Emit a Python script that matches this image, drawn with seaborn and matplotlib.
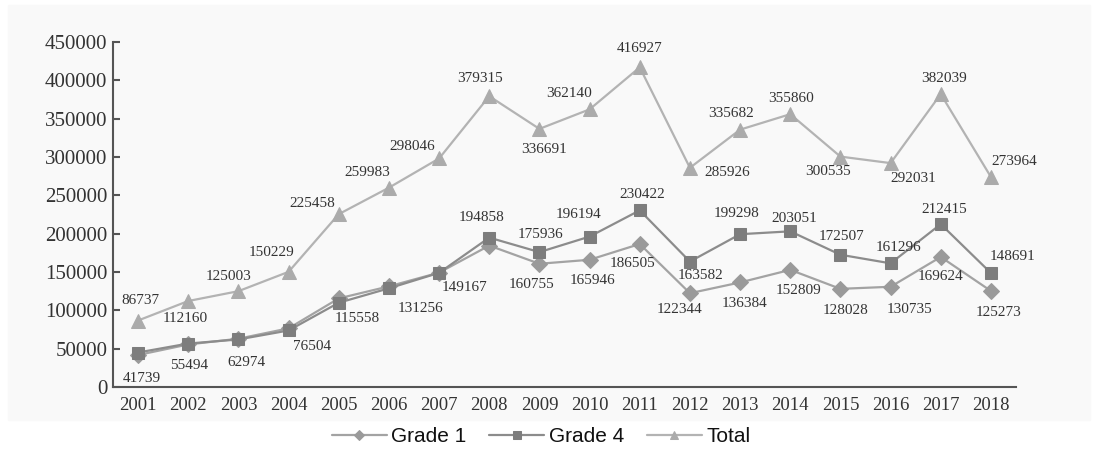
import pandas as pd
import seaborn as sns
import matplotlib.pyplot as plt
from matplotlib.patches import Rectangle
from matplotlib.ticker import FixedLocator, MultipleLocator

years = list(range(2001, 2019))
grade1 = [41739, 55494, 62974, 76504, 115558, 131256, 149167, 184457, 160755,
          165946, 186505, 122344, 136384, 152809, 128028, 130735, 169624, 125273]
grade4 = [44998, 56666, 62029, 73725, 109900, 128727, 148879, 194858, 175936,
          196194, 230422, 163582, 199298, 203051, 172507, 161296, 212415, 148691]
total = [86737, 112160, 125003, 150229, 225458, 259983, 298046, 379315, 336691,
         362140, 416927, 285926, 335682, 355860, 300535, 292031, 382039, 273964]

# label offsets in pixels (dx, dy up); None = no label
total_off = [(2, 20), (-3, -17), (-10, 15), (-17, 19), (-27, 11), (-22, 15), (-27, 12),
             (-9, 18), (5, -21), (-21, 16), (0, 19), (37, -5), (-9, 16), (1, 16),
             (-12, -15), (23, -15), (3, 16), (23, 15)]
g4_off = [None] * 7 + [(-8, 20), (1, 18), (-11, 22), (2, 16), (11, -14), (-4, 21),
                       (4, 13), (1, 18), (8, 16), (4, 15), (22, 17)]
g1_off = [(4, -23), (1, -21), (8, -24), (23, -18), (18, -20), (32, -22), (25, -15), None,
          (-8, -21), (3, -21), (-7, -19), (-10, -16), (4, -21), (8, -21), (5, -22),
          (19, -23), (0, -20), (8, -22)]

df = pd.DataFrame({"year": years, "Grade 1": grade1, "Grade 4": grade4, "Total": total})

sns.set_style("white")
plt.rcParams["font.family"] = ["Liberation Serif", "DejaVu Serif"]

fig = plt.figure(figsize=(11.02, 4.5), dpi=100)
fig.patches.append(Rectangle((8 / 1102, 30 / 450), 1082 / 1102, 415 / 450,
                             transform=fig.transFigure, color="#f9f9f9", zorder=-10))
ax = fig.add_axes([113 / 1102, 63 / 450, 903 / 1102, 345 / 450])
ax.set_facecolor("none")

styles = [("Grade 1", "D", "#9a9a9a", "#a3a3a3", 8, g1_off),
          ("Grade 4", "s", "#7d7d7d", "#8c8c8c", 8.5, g4_off),
          ("Total", "^", "#ababab", "#b3b3b3", 9.5, total_off)]

for name, mk, mcol, lcol, ms, offs in styles:
    sns.lineplot(data=df, x="year", y=name, ax=ax, color=lcol, linewidth=1.6,
                 marker=mk, markersize=ms, markerfacecolor=mcol, markeredgecolor=mcol,
                 label=name)
    for yr, v, off in zip(years, df[name], offs):
        if off is None:
            continue
        ax.annotate(str(v), (yr, v), xytext=off, textcoords="offset pixels",
                    ha="center", va="center", fontsize=11, color="#333333")

ax.set_xlim(2000.5, 2018.5)
ax.set_ylim(0, 450000)
ax.xaxis.set_major_locator(FixedLocator(years))
ax.xaxis.set_minor_locator(FixedLocator([y + 0.5 for y in range(2000, 2019)]))
ax.yaxis.set_major_locator(MultipleLocator(50000))
ax.set_xlabel("")
ax.set_ylabel("")
ax.tick_params(axis="x", which="major", length=0, pad=7, labelsize=13.5, labelcolor="#333333")
ax.tick_params(axis="x", which="minor", direction="in", length=6, width=1.5, color="#555555")
ax.tick_params(axis="y", direction="in", length=5, width=1.5, color="#555555", pad=4,
               labelsize=15, labelcolor="#333333", left=True)
for s in ["top", "right"]:
    ax.spines[s].set_visible(False)
for s in ["left", "bottom"]:
    ax.spines[s].set_color("#555555")
    ax.spines[s].set_linewidth(1.5)

leg = ax.legend(loc="center", bbox_to_anchor=(541 / 1102, 13 / 450),
                bbox_transform=fig.transFigure, ncol=3, frameon=True, facecolor="white",
                edgecolor="none", framealpha=1, markerscale=0.65, handlelength=2.65,
                handletextpad=0.2, columnspacing=1.1, borderpad=0.2,
                prop={"family": ["Liberation Sans"], "size": 15})
for t in leg.get_texts():
    t.set_color("#111111")

fig.savefig("out.png", dpi=100)
